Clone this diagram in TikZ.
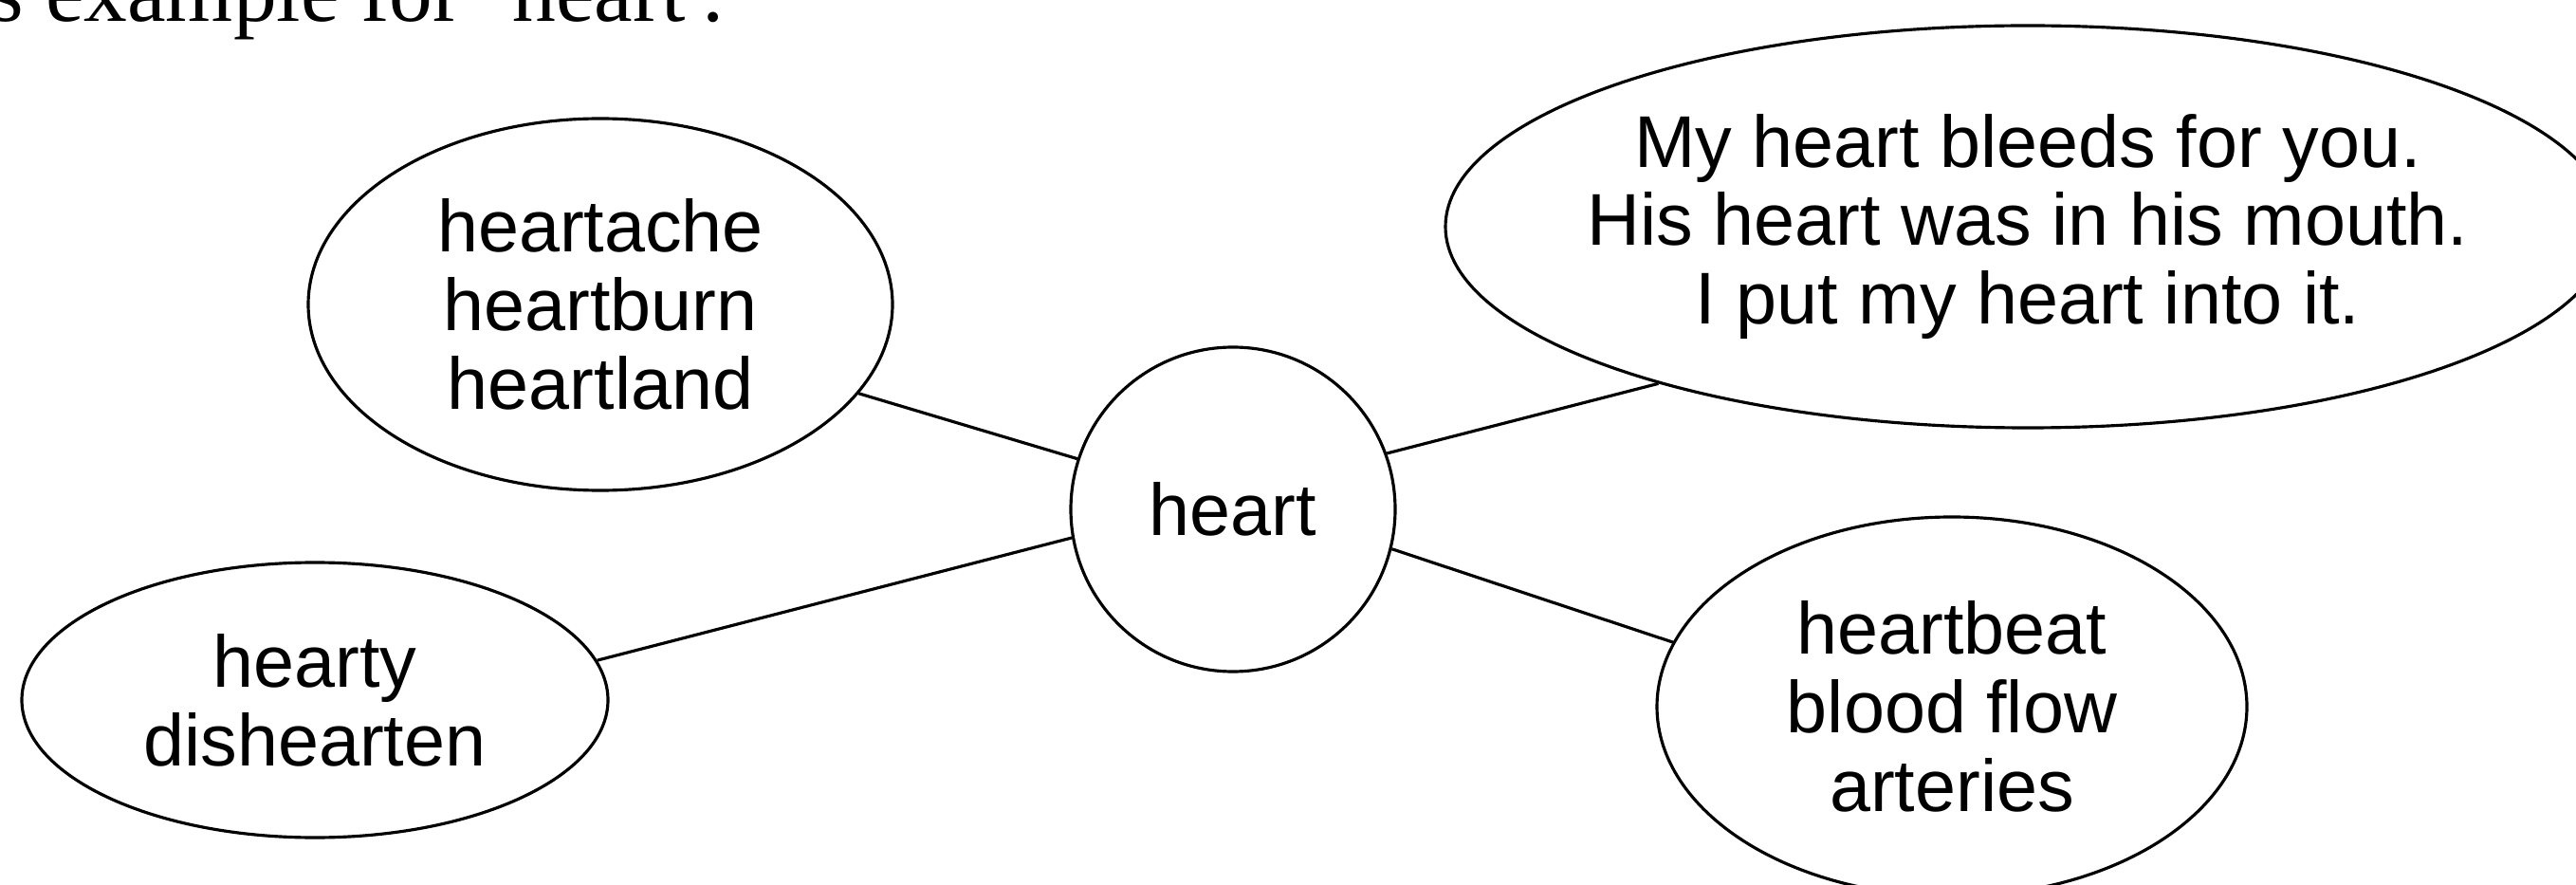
\documentclass[tikz,border=0pt]{standalone}
\usepackage{fontspec}
\setmainfont{Liberation Sans}
\newfontfamily\titlefont{Liberation Serif}
\usetikzlibrary{shapes.geometric}

\begin{document}
\begin{tikzpicture}[
		idea/.style={ellipse, draw=black, line width=0.9pt, inner sep=-1cm,
			align=center, font=\fontsize{22}{23.6}\selectfont},
		hub/.style={circle, draw=black, line width=0.9pt, inner sep=-1cm,
			minimum size=3.42cm, font=\fontsize{22}{23.6}\selectfont},
		link/.style={line width=0.9pt, color=black}
		]
		\clip (0,0) rectangle (27.16,-9.33);
		% Titre (coupe en haut)
		\node[anchor=base west, inner sep=0pt,
		font=\titlefont\fontsize{26}{30}\selectfont] (titre) at (-0.11,-0.23)
		{s example for `heart':};
		
		% Noeuds
		\node[hub] (heart) at (13.00,-5.37) {heart};
		\node[idea, minimum width=6.16cm, minimum height=3.92cm] (ache) at (6.33,-3.21)
		{heartache\\heartburn\\heartland};
		\node[idea, minimum width=6.18cm, minimum height=2.90cm] (hearty) at (3.32,-7.38)
		{hearty\\dishearten};
		\node[idea, minimum width=12.28cm, minimum height=4.24cm] (idioms) at (21.38,-2.39)
		{My heart bleeds for you.\\His heart was in his mouth.\\I put my heart into it.};
		\node[idea, minimum width=6.22cm, minimum height=4.00cm] (beat) at (20.58,-7.45)
		{heartbeat\\blood flow\\arteries};
		
		% Liens
		\draw[link] (ache.341) -- (heart.162);
		\draw[link] (hearty.8) -- (heart.190);
		\draw[link] (idioms.203) -- (heart.20);
		\draw[link] (beat.167) -- (heart.346);
	\end{tikzpicture}
\end{document}
